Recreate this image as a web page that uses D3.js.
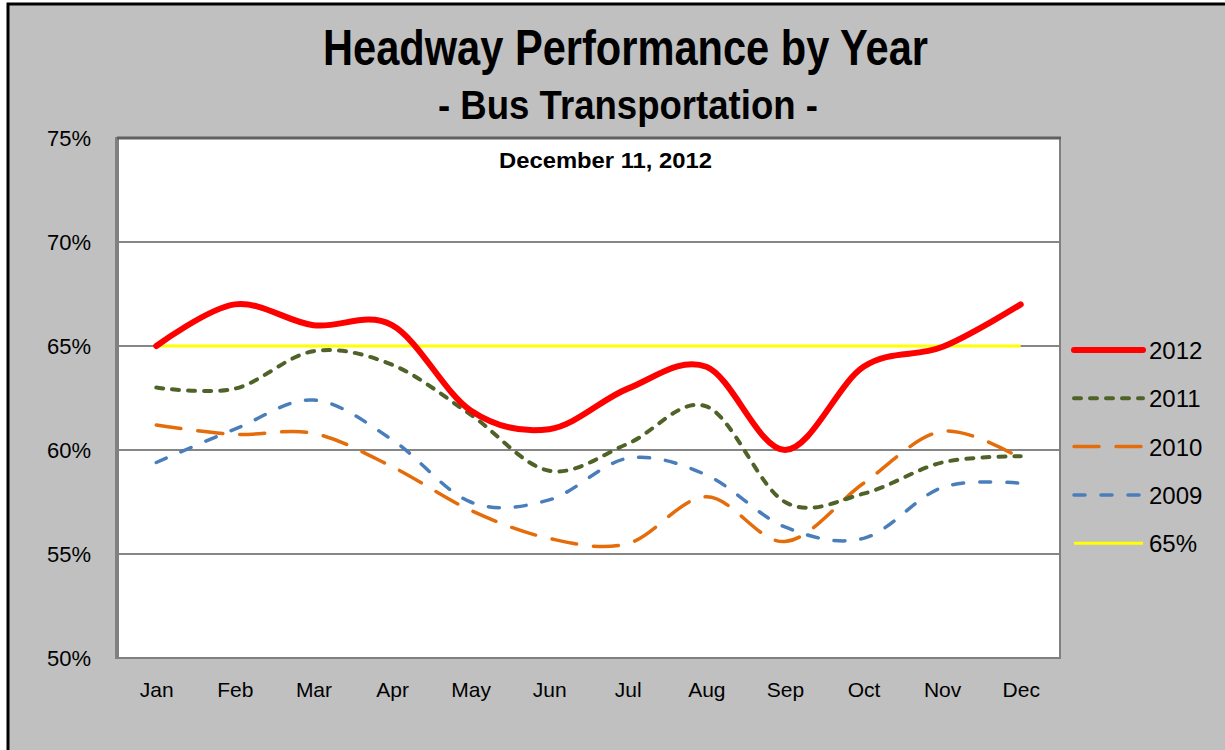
<!DOCTYPE html>
<html>
<head>
<meta charset="utf-8">
<script src="https://cdn.jsdelivr.net/npm/d3@7"></script>
<style>
  body { margin: 0; background: #fff; }
  svg { display: block; }
  text { font-family: "Liberation Sans", Arial, sans-serif; }
</style>
</head>
<body>
<div class="canvas"></div>
<script>
// chart values
const months = ['Jan','Feb','Mar','Apr','May','Jun','Jul','Aug','Sep','Oct','Nov','Dec'];
const y2012 = [65.0, 67.0, 66.0, 66.0, 61.9, 61.0, 62.95, 64.0, 60.0, 64.0, 64.95, 67.0];
const y2011 = [63.0, 62.95, 64.75, 64.1, 61.7, 59.0, 60.3, 62.1, 57.5, 57.9, 59.4, 59.7];
const y2010 = [61.2, 60.75, 60.8, 59.2, 57.1, 55.75, 55.5, 57.75, 55.6, 58.4, 60.9, 59.6];
const y2009 = [59.4, 61.0, 62.4, 60.5, 57.5, 57.6, 59.6, 58.8, 56.3, 55.75, 58.2, 58.4];
const target = months.map(() => 65);
const yTicks = [50, 55, 60, 65, 70, 75];

const series = [
    { name: '2012', values: y2012, color: '#ff0000', width: 6,   dash: null },
    { name: '2011', values: y2011, color: '#4f6228', width: 4,   dash: '7,9' },
    { name: '2010', values: y2010, color: '#e46c0a', width: 3.5, dash: '25,17' },
    { name: '2009', values: y2009, color: '#4a7ebb', width: 3.5, dash: '11,16' },
    { name: '65%',  values: target, color: '#ffff00', width: 3,  dash: null }
];

const W = 1225, H = 750;
const plot = { left: 117, right: 1060, top: 138, bottom: 658 };

const svg = d3.select('.canvas')
    .append('svg')
    .attr('width', W)
    .attr('height', H);

// chart background + outer frame
svg.append('rect')
    .attr('x', 0).attr('y', 0).attr('width', W).attr('height', H)
    .attr('fill', '#fff');
svg.append('rect')
    .attr('x', 8).attr('y', 4).attr('width', W).attr('height', H)
    .attr('fill', '#c0c0c0')
    .attr('stroke', '#000')
    .attr('stroke-width', 3);

const x = d3.scalePoint()
    .domain(months)
    .range([plot.left, plot.right])
    .padding(0.5);

const y = d3.scaleLinear()
    .domain([50, 75])
    .range([plot.bottom, plot.top]);

// plot area
svg.append('rect')
    .attr('x', plot.left).attr('y', plot.top)
    .attr('width', plot.right - plot.left)
    .attr('height', plot.bottom - plot.top)
    .attr('fill', '#fff');

// gridlines
svg.append('g')
    .selectAll('line')
    .data(yTicks.slice(1, -1))
    .join('line')
    .attr('x1', plot.left).attr('x2', plot.right)
    .attr('y1', d => y(d)).attr('y2', d => y(d))
    .attr('stroke', '#868686')
    .attr('stroke-width', 2);

// plot border
svg.append('rect')
    .attr('x', plot.left).attr('y', plot.top)
    .attr('width', plot.right - plot.left)
    .attr('height', plot.bottom - plot.top)
    .attr('fill', 'none')
    .attr('stroke', '#808080')
    .attr('stroke-width', 2);
svg.append('line')
    .attr('x1', plot.left).attr('x2', plot.left)
    .attr('y1', plot.top - 1).attr('y2', plot.bottom + 1)
    .attr('stroke', '#808080')
    .attr('stroke-width', 4);
svg.append('line')
    .attr('x1', plot.left).attr('x2', plot.right + 1)
    .attr('y1', plot.top).attr('y2', plot.top)
    .attr('stroke', '#606060')
    .attr('stroke-width', 3);

// y axis labels
const yAxis = d3.axisLeft(y)
    .tickValues(yTicks)
    .tickSize(0)
    .tickPadding(26)
    .tickFormat(d => d + '%');
svg.append('g')
    .attr('transform', `translate(${plot.left}, 0)`)
    .call(yAxis)
    .call(g => g.select('.domain').remove())
    .selectAll('text')
    .attr('font-size', 22)
    .attr('font-family', '"Liberation Sans", Arial, sans-serif')
    .attr('fill', '#000');

// x axis labels
const xAxis = d3.axisBottom(x).tickSize(0).tickPadding(24);
svg.append('g')
    .attr('transform', `translate(0, ${plot.bottom})`)
    .call(xAxis)
    .call(g => g.select('.domain').remove())
    .selectAll('text')
    .attr('font-size', 21)
    .attr('font-family', '"Liberation Sans", Arial, sans-serif')
    .attr('fill', '#000');

// lines - smoothed like the excel original
const line = d3.line()
    .x((d, i) => x(months[i]))
    .y(d => y(d))
    .curve(d3.curveCardinal.tension(0));

const drawOrder = ['65%', '2009', '2010', '2011', '2012'];
svg.append('g')
    .selectAll('path')
    .data(drawOrder.map(n => series.find(s => s.name === n)))
    .join('path')
    .attr('d', d => line(d.values))
    .attr('fill', 'none')
    .attr('stroke', d => d.color)
    .attr('stroke-width', d => d.width)
    .attr('stroke-dasharray', d => d.dash)
    .attr('stroke-linecap', d => d.name === '65%' ? 'butt' : 'round');

// titles (the original uses a narrow face, so squeeze to its width)
svg.append('text')
    .attr('x', 323).attr('y', 65)
    .attr('font-weight', 'bold')
    .attr('font-size', 50)
    .attr('textLength', 605)
    .attr('lengthAdjust', 'spacingAndGlyphs')
    .text('Headway Performance by Year');
svg.append('text')
    .attr('x', 438).attr('y', 119)
    .attr('font-weight', 'bold')
    .attr('font-size', 40)
    .attr('textLength', 380)
    .attr('lengthAdjust', 'spacingAndGlyphs')
    .text('- Bus Transportation -');
svg.append('text')
    .attr('x', 499).attr('y', 168)
    .attr('font-weight', 'bold')
    .attr('font-size', 22)
    .attr('textLength', 213)
    .attr('lengthAdjust', 'spacingAndGlyphs')
    .text('December 11, 2012');

// legend
const legendGroup = svg.append('g')
    .attr('transform', 'translate(1072, 350)');
const item = legendGroup.selectAll('g')
    .data(series)
    .join('g')
    .attr('transform', (d, i) => `translate(0, ${i * 48.3})`);
item.append('line')
    .attr('x1', 2).attr('x2', 71)
    .attr('y1', 0).attr('y2', 0)
    .attr('stroke', d => d.color)
    .attr('stroke-width', d => d.name === '65%' ? 3 : d.width)
    .attr('stroke-dasharray', d => d.dash)
    .attr('stroke-linecap', d => d.name === '65%' ? 'butt' : 'round');
item.append('text')
    .attr('x', 77).attr('y', 9)
    .attr('font-size', 24)
    .attr('fill', '#000')
    .text(d => d.name);
</script>
</body>
</html>
